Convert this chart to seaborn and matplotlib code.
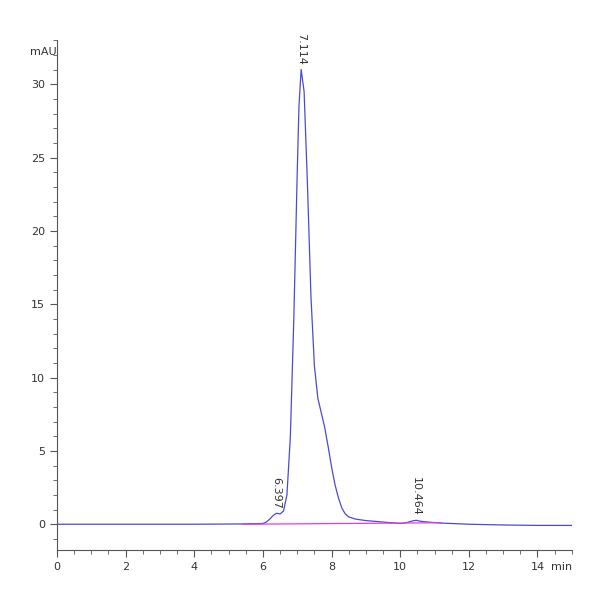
import matplotlib
matplotlib.use("Agg")
import matplotlib.pyplot as plt
import seaborn as sns
import pandas as pd
from matplotlib.ticker import MultipleLocator

time = [0, 2, 4, 5.4, 6.0, 6.1, 6.2, 6.3, 6.397, 6.5, 6.6, 6.7, 6.8, 6.9, 7.0, 7.05, 7.114, 7.2, 7.3, 7.4, 7.5, 7.6, 7.7, 7.8, 7.9, 8.0, 8.1, 8.2, 8.3, 8.4, 8.5, 8.7, 9.0, 9.5, 10.0, 10.2, 10.35, 10.464, 10.6, 10.8, 11.2, 12, 13, 14, 15]
signal = [0.0, 0.0, 0.0, 0.02, 0.05, 0.15, 0.35, 0.6, 0.75, 0.7, 0.9, 2.0, 6.0, 14.0, 24.0, 28.5, 31.0, 29.5, 23.0, 15.5, 10.8, 8.6, 7.6, 6.6, 5.3, 3.9, 2.7, 1.8, 1.1, 0.7, 0.5, 0.35, 0.25, 0.15, 0.05, 0.12, 0.22, 0.27, 0.2, 0.15, 0.08, 0.0, -0.05, -0.08, -0.08]
base_t = [5.4, 11.2]
base_y = [0.0, 0.1]
peak_t = [6.397, 7.114, 10.464]
peak_y = [0.75, 31.0, 0.27]
peak_lab = ["6.397", "7.114", "10.464"]

sns.set_style("white")
fig = plt.figure(figsize=(6, 6), dpi=100)
ax = fig.add_axes([0.095, 0.083, 0.858, 0.85])
df = pd.DataFrame({"t": time, "y": signal})
sns.lineplot(data=df, x="t", y="y", ax=ax, color="#4b4bd0", lw=0.9)
ax.plot(base_t, base_y, color="#e040e0", lw=0.9)
for t, y, l in zip(peak_t, peak_y, peak_lab):
    ax.text(t, y + 0.3, l, rotation=270, ha="center", va="bottom", fontsize=8, color="#333")
    ax.text(t, y + 0.3, "", fontsize=1)
ax.set_xlim(0, 15)
ax.set_ylim(-1.77, 33)
ax.set_xlabel(""); ax.set_ylabel("")
for s in ["top", "right"]:
    ax.spines[s].set_visible(False)
ax.spines["left"].set_color("#555"); ax.spines["bottom"].set_color("#555")
ax.xaxis.set_major_locator(MultipleLocator(2)); ax.xaxis.set_minor_locator(MultipleLocator(0.5))
ax.yaxis.set_major_locator(MultipleLocator(5)); ax.yaxis.set_minor_locator(MultipleLocator(1))
ax.tick_params(which="both", direction="out", bottom=True, left=True, colors="#555", labelsize=8, labelcolor="#333")
ax.tick_params(which="major", length=5); ax.tick_params(which="minor", length=3)
ax.text(-0.02, 32.2, "mAU", ha="right", va="center", fontsize=8, color="#333", transform=ax.transData)
ax.text(15, -2.9, "min", ha="right", va="center", fontsize=8, color="#333")
ax.set_xticks([0, 2, 4, 6, 8, 10, 12, 14])
fig.savefig("out.png")
